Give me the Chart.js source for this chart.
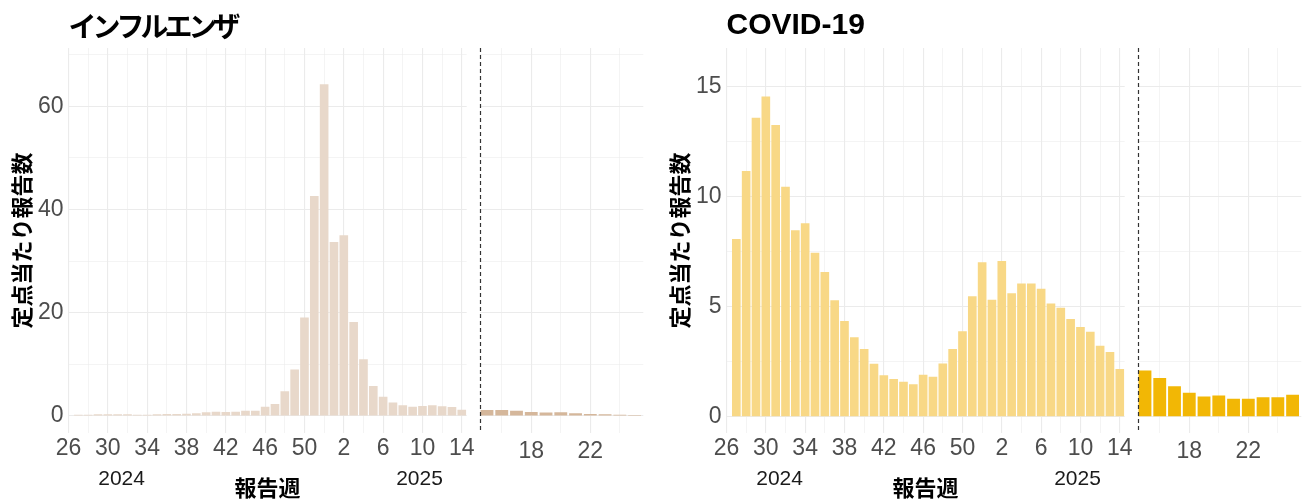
<!DOCTYPE html>
<html>
<head>
<meta charset="utf-8">
<script src="https://cdn.jsdelivr.net/npm/chart.js@4.4.1/dist/chart.umd.min.js"></script>
<style>
  html, body { margin: 0; padding: 0; background: #fff; }
  #wrap { position: relative; width: 1302px; height: 501px; overflow: hidden; }
  canvas { position: absolute; top: 0; }
</style>
</head>
<body>
<div id="wrap">
  <canvas id="fluPast" width="482" height="501" style="left:0px"></canvas>
  <canvas id="fluPred" width="174" height="501" style="left:470px"></canvas>
  <canvas id="covPast" width="482" height="501" style="left:658px"></canvas>
  <canvas id="covPred" width="174" height="501" style="left:1128px"></canvas>
</div>
<script>
// report weeks: 2024 wk27 .. 2025 wk14, then the forecast weeks 15..25
const pastWeeks = [27,28,29,30,31,32,33,34,35,36,37,38,39,40,41,42,43,44,45,46,47,48,49,50,51,52,
                   1,2,3,4,5,6,7,8,9,10,11,12,13,14];
const predWeeks = [15,16,17,18,19,20,21,22,23,24,25];

const fluPast = [0.26,0.26,0.32,0.32,0.32,0.32,0.26,0.26,0.32,0.39,0.39,0.45,0.52,0.71,0.84,0.78,0.84,1.03,1.03,1.8,2.3,4.8,9.0,19.1,42.6,64.3,
                 33.7,35.0,18.2,11.0,5.8,3.7,2.6,2.1,1.8,1.95,2.1,1.9,1.75,1.2];
const fluPred = [1.16,1.16,1.03,0.78,0.65,0.71,0.52,0.39,0.32,0.26,0.19];

const covidPast = [8.08,11.17,13.59,14.55,13.26,10.45,8.48,8.79,7.45,6.58,5.29,4.35,3.61,3.08,2.41,1.88,1.71,1.59,1.48,1.91,1.82,2.42,3.08,3.89,5.48,7.02,
                   5.32,7.08,5.61,6.06,6.06,5.82,5.15,4.95,4.44,4.08,3.86,3.23,2.94,2.17];
const covidPred = [2.10,1.76,1.39,1.09,0.92,0.96,0.82,0.82,0.89,0.88,1.00];

// tick labels (past axis starts at wk26, one label every 4 weeks)
const pastTickLabels = ['26','30','34','38','42','46','50','2','6','10','14'];
const predTickLabels = ['18','22'];
const fluYLabels = ['0','20','40','60'];
const covidYLabels = ['0','5','10','15'];
const yearLabels = ['2024','2025'];
const yearAt = [5.4, 35.7]; // in weeks after wk26 2024

const fluRange = [-3.3, 71.3];
const covidRange = [-0.74, 16.76];

const GRID = '#EBEBEB';
const TICK = '#4D4D4D';
const JP = "'Noto Sans CJK JP', sans-serif";
const LAT = "'Liberation Sans', Arial, sans-serif";
const PLOT_TOP = 48;
const AXIS_H = 68;

Chart.defaults.font.family = LAT;
Chart.defaults.animation = false;

function gridWidth(ctx) {
    return ctx.tick && ctx.tick.lbl ? 1.1 : 0.55; // minor lines are thinner
}

function yTicks(labels, range) {
    const vals = labels.map(Number);
    const step = vals[1] - vals[0];
    const out = [];
    vals.forEach((v, i) => {
        out.push({value: v, lbl: labels[i]});
        out.push({value: v + step / 2, lbl: ''});
    });
    return out.filter(t => t.value <= range[1]);
}

function pastXTicks() {
    const out = [];
    pastTickLabels.forEach((l, j) => {
        out.push({value: j * 4, lbl: l});
        if (j < pastTickLabels.length - 1) out.push({value: j * 4 + 2, lbl: ''});
    });
    return out;
}

function predXTicks() {
    const out = [];
    predTickLabels.forEach(l => {
        const v = Number(l);
        out.push({value: v - 2, lbl: ''});
        out.push({value: v, lbl: l});
    });
    out.push({value: Number(predTickLabels[predTickLabels.length - 1]) + 2, lbl: ''});
    return out;
}

function panelText(title, titleFont, spacing) {
    return {
        id: 'panelText',
        afterDraw(chart) {
            const {ctx, chartArea, scales} = chart;
            ctx.save();
            ctx.fillStyle = '#000';
            ctx.textBaseline = 'middle';
            ctx.textAlign = 'left';
            ctx.font = titleFont;
            if ('letterSpacing' in ctx) ctx.letterSpacing = spacing;
            ctx.fillText(title, chartArea.left, 26);
            if ('letterSpacing' in ctx) ctx.letterSpacing = '0px';
            ctx.font = '21px ' + LAT;
            ctx.fillStyle = '#1A1A1A';
            ctx.textAlign = 'center';
            yearLabels.forEach((t, i) => ctx.fillText(t, scales.x.getPixelForValue(yearAt[i]), 479));
            ctx.restore();
        }
    };
}

const boundaryLine = {
    id: 'boundaryLine',
    afterDatasetsDraw(chart) {
        const {ctx, chartArea, scales} = chart;
        const x = Math.round(scales.x.getPixelForValue(scales.x.min)) + 0.5;
        ctx.save();
        ctx.strokeStyle = '#333';
        ctx.lineWidth = 1.2;
        ctx.setLineDash([4, 3]);
        ctx.beginPath();
        ctx.moveTo(x, chartArea.top);
        ctx.lineTo(x, chartArea.bottom);
        ctx.stroke();
        ctx.restore();
    }
};

function yScale(labels, range, showLabels) {
    const ticks = yTicks(labels, range);
    return {
        min: range[0],
        max: range[1],
        grid: {color: GRID, lineWidth: gridWidth, drawTicks: false},
        border: {display: false},
        afterBuildTicks: s => { s.ticks = ticks.map(t => ({...t})); },
        afterFit: s => { s.width = showLabels ? 68.5 : 0; },
        ticks: {display: showLabels, padding: 5, color: TICK, font: {size: 23},
                callback: (v, i, t) => t[i].lbl},
        title: {display: showLabels, text: '定点当たり報告数', color: '#000',
                font: {family: JP, size: 22, weight: 'bold'}, padding: {top: 8.5, bottom: 0}}
    };
}

function createPast(id, values, color, labels, range, title, titleFont, spacing) {
    const xt = pastXTicks();
    return new Chart(document.getElementById(id), {
        type: 'bar',
        data: {
            datasets: [{
                data: pastWeeks.map((w, i) => ({x: i + 1, y: values[i]})),
                backgroundColor: color,
                borderWidth: 0,
                barPercentage: 0.88,
                categoryPercentage: 1
            }]
        },
        options: {
            responsive: false,
            events: [],
            layout: {padding: {top: PLOT_TOP, right: 15.3, left: 0, bottom: 0}},
            plugins: {legend: {display: false}, tooltip: {enabled: false}},
            scales: {
                x: {
                    type: 'linear', min: 0, max: 40.5, offset: false,
                    grid: {color: GRID, lineWidth: gridWidth, drawTicks: false, offset: false},
                    border: {display: false},
                    afterBuildTicks: s => { s.ticks = xt.map(t => ({...t})); },
                    afterFit: s => { s.height = AXIS_H; },
                    ticks: {autoSkip: false, maxRotation: 0, padding: 2, color: TICK, font: {size: 23},
                            callback: (v, i, t) => t[i].lbl},
                    title: {display: true, text: '報告週', color: '#000',
                            font: {family: JP, size: 22, weight: 'bold'}, padding: 0}
                },
                y: yScale(labels, range, true)
            }
        },
        plugins: [panelText(title, titleFont, spacing)]
    });
}

function createPred(id, values, color, labels, range) {
    const xt = predXTicks();
    return new Chart(document.getElementById(id), {
        type: 'bar',
        data: {
            datasets: [{
                data: predWeeks.map((w, i) => ({x: w, y: values[i]})),
                backgroundColor: color,
                borderWidth: 0,
                barPercentage: 0.87,
                categoryPercentage: 1
            }]
        },
        options: {
            responsive: false,
            events: [],
            layout: {padding: {top: PLOT_TOP, right: 0.7, left: 9.6, bottom: 0}},
            plugins: {legend: {display: false}, tooltip: {enabled: false}},
            scales: {
                x: {
                    type: 'linear', min: 14.5, max: 25.59, offset: false,
                    grid: {color: GRID, lineWidth: gridWidth, drawTicks: false, offset: false},
                    border: {display: false},
                    afterBuildTicks: s => { s.ticks = xt.map(t => ({...t})); },
                    afterFit: s => { s.height = AXIS_H; },
                    ticks: {autoSkip: false, maxRotation: 0, padding: 5, color: TICK, font: {size: 23},
                            callback: (v, i, t) => t[i].lbl}
                },
                y: yScale(labels, range, false)
            }
        },
        plugins: [boundaryLine]
    });
}

createPast('fluPast', fluPast, '#E8D8CA', fluYLabels, fluRange, 'インフルエンザ', 'bold 28px ' + JP, '-4px');
createPred('fluPred', fluPred, '#D5B79B', fluYLabels, fluRange);
createPast('covPast', covidPast, '#F8D886', covidYLabels, covidRange, 'COVID-19', 'bold 30px ' + LAT, '0px');
createPred('covPred', covidPred, '#F2B705', covidYLabels, covidRange);
</script>
</body>
</html>
